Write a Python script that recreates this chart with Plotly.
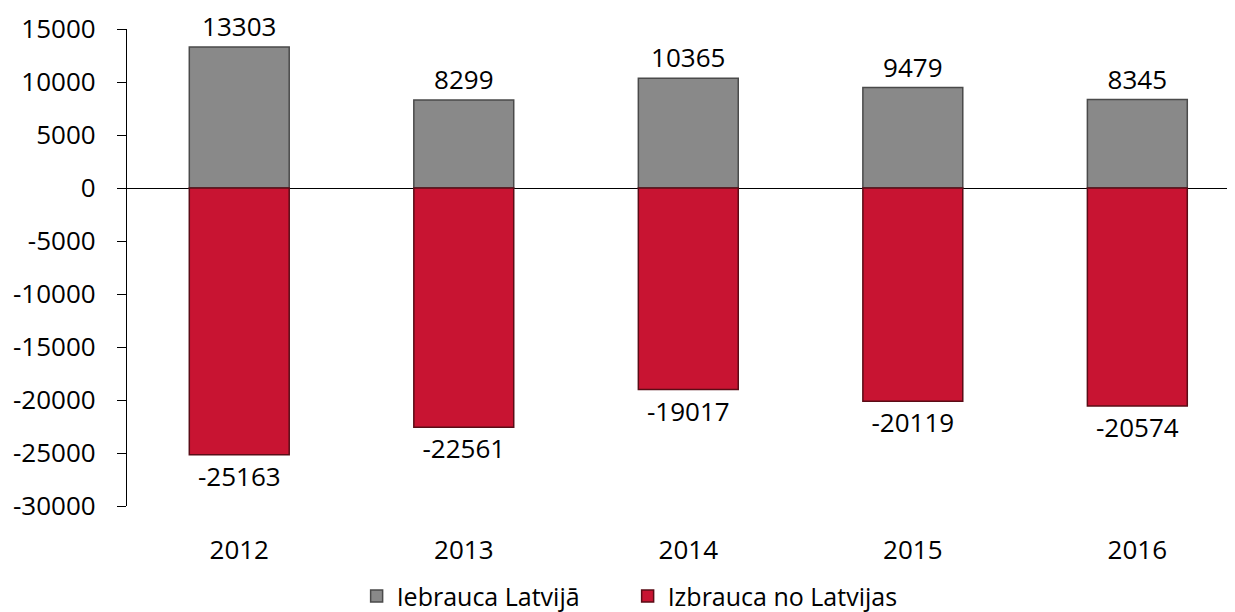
import plotly.graph_objects as go

years = ["2012", "2013", "2014", "2015", "2016"]
iebrauca = [13303, 8299, 10365, 9479, 8345]
izbrauca = [-25163, -22561, -19017, -20119, -20574]
series_names = ["Iebrauca Latvijā", "Izbrauca no Latvijas"]
y_ticks = [15000, 10000, 5000, 0, -5000, -10000, -15000, -20000, -25000, -30000]
y_tick_text = [str(v) for v in y_ticks]

FONT = "Open Sans"
fig = go.Figure()
fig.add_trace(go.Bar(x=years, y=iebrauca, name=series_names[0],
                     text=[str(v) for v in iebrauca], textposition="outside",
                     textfont=dict(family=FONT, size=26, color="#000"), cliponaxis=False,
                     marker=dict(color="#898989", line=dict(color="#4a4a4a", width=1.5))))
fig.add_trace(go.Bar(x=years, y=izbrauca, name=series_names[1],
                     text=[str(v) for v in izbrauca], textposition="outside",
                     textfont=dict(family=FONT, size=26, color="#000"), cliponaxis=False,
                     marker=dict(color="#C81432", line=dict(color="#5a0c16", width=1.5))))

fig.update_layout(
    width=1227, height=604,
    margin=dict(l=119, r=0, t=21, b=106),
    paper_bgcolor="white", plot_bgcolor="white",
    barmode="relative", bargap=0.555,
    uniformtext=dict(minsize=26, mode="show"),
    font=dict(family=FONT, size=26, color="#000"),
    showlegend=True,
    legend=dict(orientation="h", xref="container", yref="container",
                x=0.505, xanchor="center", y=0.026, yanchor="middle",
                font=dict(family=FONT, size=25), itemwidth=30, traceorder="normal",
                entrywidth=226, entrywidthmode="pixels"),
    xaxis=dict(type="category", range=[-0.5, 4.435], showgrid=False, showline=False, ticks="",
               ticklabelstandoff=26, tickfont=dict(size=26)),
    yaxis=dict(range=[-30000, 15000], tickvals=y_ticks, ticktext=y_tick_text, showgrid=False,
               showline=True, linecolor="#000", linewidth=1.2,
               ticks="outside", ticklen=9, tickcolor="#000", tickwidth=1.2,
               zeroline=True, zerolinecolor="#000", zerolinewidth=1.2,
               ticklabelstandoff=16, tickfont=dict(size=26)),
)
fig.write_html("out.html")
